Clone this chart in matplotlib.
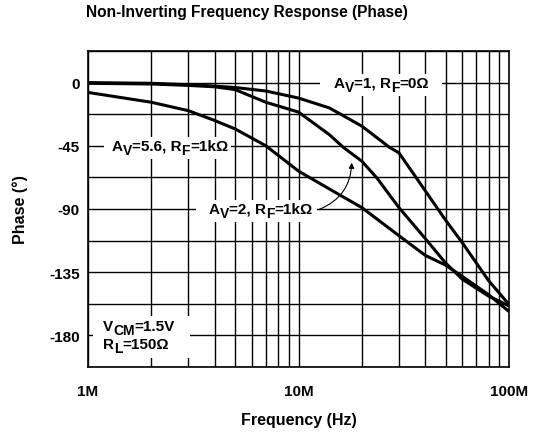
import matplotlib
matplotlib.use("Agg")
import matplotlib.pyplot as plt
from matplotlib.patches import Rectangle
import numpy as np

plt.rcParams['font.family'] = ['Liberation Sans', 'DejaVu Sans']
plt.rcParams['font.weight'] = 'bold'
plt.rcParams['axes.unicode_minus'] = False

# data (frequency in MHz, phase in degrees)
f_av1 = [1, 2, 3, 4, 5, 7, 10, 14, 20, 27, 30, 40, 50, 60, 70, 80, 100]
p_av1 = [0, -0.5, -1.5, -2.5, -3.5, -6, -11, -18, -31, -46, -50, -77, -98, -114, -128.5, -141, -158]
f_av2 = [1, 2, 3, 4, 5, 7, 10, 14, 16.3, 20, 23.6, 30, 40, 50, 60, 80, 100]
p_av2 = [-0.5, -1, -2, -3, -5, -14, -21, -37, -46, -56, -68, -89, -111, -128.5, -140, -152, -159]
f_av56 = [1, 2, 3, 4, 5, 7, 10, 15.7, 20, 30, 40, 50, 60, 80, 100]
p_av56 = [-7, -14, -20, -27, -33, -45, -63, -80, -89, -109, -123, -130, -138, -151, -163]

x_ticks = [1e6, 1e7, 1e8]
x_labels = ['1M', '10M', '100M']
y_ticks = [0, -45, -90, -135, -180]

lab_av1 = [('A', False), ('V', True), ('=1, R', False), ('F', True), ('=0Ω', False)]
lab_av56 = [('A', False), ('V', True), ('=5.6, R', False), ('F', True), ('=1kΩ', False)]
lab_av2 = [('A', False), ('V', True), ('=2, R', False), ('F', True), ('=1kΩ', False)]
lab_vcm = [('V', False), ('CM', True), ('=1.5V', False)]
lab_rl = [('R', False), ('L', True), ('=150Ω', False)]

W, H = 536, 435
fig = plt.figure(figsize=(W/100, H/100), dpi=100)
ax = fig.add_axes([88/W, 1-368/H, (509-88)/W, (368-52)/H])

for f, p in [(f_av1, p_av1), (f_av2, p_av2), (f_av56, p_av56)]:
    ax.plot(np.array(f)*1e6, p, color='black', lw=2.2, zorder=3, solid_capstyle='butt')

ax.set_xscale('log')
ax.set_xlim(1e6, 1e8)
ax.set_ylim(-202.5, 22.5)

# grid
for dec in [1e6, 1e7]:
    for m in range(1, 10):
        ax.axvline(dec*m, color='black', lw=1, zorder=1)
for yv in np.arange(-202.5, 22.6, 22.5):
    ax.axhline(yv, color='black', lw=1, zorder=1)

ax.set_xticks(x_ticks)
ax.set_xticklabels(x_labels)
ax.set_xticks([], minor=True)
ax.set_yticks(y_ticks)
ax.tick_params(axis='y', length=0, labelsize=11, pad=6)
ax.tick_params(axis='x', length=0, labelsize=11, pad=12)
for lab in ax.get_xticklabels() + ax.get_yticklabels():
    lab.set_fontweight('bold')
for s in ax.spines.values():
    s.set_linewidth(1.2)

ax.set_xlabel('Frequency (Hz)', fontsize=11.5, fontweight='bold', labelpad=10)
ax.set_ylabel('Phase (°)', fontsize=11.5, fontweight='bold')
ax.yaxis.set_label_coords((28.5-88)/(509-88), 0.5)

fig.text(86/W, 1-12/H, 'Non-Inverting Frequency Response (Phase)', fontsize=11.2,
         fontweight='bold', ha='left', va='center')

renderer = fig.canvas.get_renderer()


def rich(x, y, pieces, size=11, subsize=10, ha='center'):
    """Draw text with subscripts; returns list of artists. (x, y) in data coords."""
    arts = []
    prev = None
    prev_sub = False
    for s, sub in pieces:
        fs = subsize if sub else size
        if prev is None:
            t = ax.text(x, y, s, fontsize=fs, fontweight='bold', ha='left',
                        va='center', zorder=5)
        else:
            if sub and not prev_sub:
                dy = -3.0
            elif prev_sub and not sub:
                dy = 3.0
            else:
                dy = 0
            t = ax.annotate(s, xy=(1, 0), xycoords=prev, xytext=(0, dy),
                            textcoords='offset points', fontsize=fs,
                            fontweight='bold', ha='left', va='bottom', zorder=5)
        arts.append(t)
        prev = t
        prev_sub = sub
    if ha == 'center':
        fig.canvas.draw()
        ext = [a.get_window_extent(renderer) for a in arts]
        x0 = min(e.x0 for e in ext)
        x1 = max(e.x1 for e in ext)
        dx = (x1 - x0) / 2
        px, py = ax.transData.transform((x, y))
        nx, ny = ax.transData.inverted().transform((px - dx, py))
        arts[0].set_position((nx, ny))
    return arts


def white_box(arts_list, padl=4, padr=4, padv=2):
    fig.canvas.draw()
    ext = [a.get_window_extent(renderer) for arts in arts_list for a in arts]
    x0 = min(e.x0 for e in ext) - padl
    x1 = max(e.x1 for e in ext) + padr
    y0 = min(e.y0 for e in ext) - padv
    y1 = max(e.y1 for e in ext) + padv
    r = Rectangle((x0/W, y0/H), (x1-x0)/W, (y1-y0)/H, transform=fig.transFigure,
                  facecolor='white', edgecolor='none', zorder=2)
    ax.add_patch(r)


a1 = rich(24.7e6, 0, lab_av1)
white_box([a1], padl=13, padr=13)
a56 = rich(2.45e6, -45, lab_av56)
white_box([a56], padl=8, padr=3)
a2 = rich(6.64e6, -90, lab_av2)
white_box([a2], padl=13, padr=4)
v1 = rich(1.18e6, -173, lab_vcm, ha='left')
v2 = rich(1.18e6, -186, lab_rl, ha='left')
white_box([v1, v2], padl=10, padr=15, padv=3)

ax.annotate('', xy=(17.9e6, -55), xytext=(12.2e6, -91),
            arrowprops=dict(arrowstyle='-|>', color='black', lw=0.8,
                            connectionstyle='arc3,rad=0.35', mutation_scale=8),
            zorder=4)

fig.savefig('out.png', dpi=100)
